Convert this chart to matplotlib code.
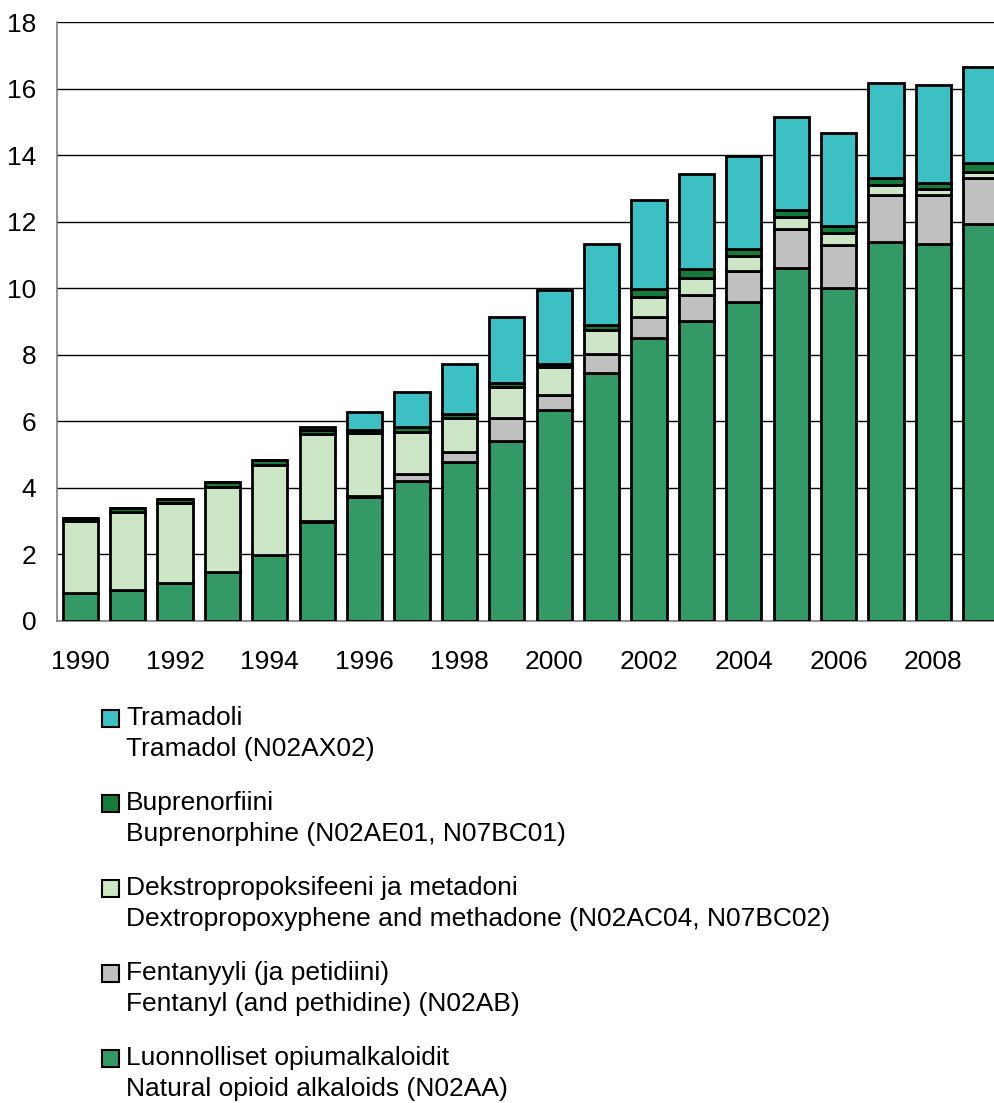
import matplotlib
matplotlib.use("Agg")
import matplotlib.pyplot as plt
from matplotlib.patches import Rectangle
import numpy as np

plt.rcParams['font.family'] = ['Liberation Sans', 'DejaVu Sans']

years = list(range(1990, 2010))

# stacked from bottom to top
natural = [0.84, 0.93, 1.13, 1.47, 1.98, 2.97, 3.72, 4.22, 4.79, 5.42,
           6.34, 7.46, 8.49, 9.03, 9.60, 10.61, 10.00, 11.38, 11.34, 11.94]
fentanyl = [0.0, 0.0, 0.0, 0.0, 0.0, 0.03, 0.05, 0.20, 0.28, 0.69,
            0.45, 0.56, 0.65, 0.77, 0.92, 1.18, 1.30, 1.42, 1.46, 1.38]
dextro = [2.17, 2.35, 2.43, 2.57, 2.71, 2.62, 1.87, 1.27, 1.04, 0.93,
          0.83, 0.72, 0.60, 0.50, 0.46, 0.36, 0.35, 0.29, 0.18, 0.17]
bupre = [0.10, 0.12, 0.12, 0.13, 0.14, 0.12, 0.10, 0.15, 0.11, 0.12,
         0.10, 0.15, 0.23, 0.29, 0.21, 0.19, 0.21, 0.21, 0.19, 0.27]
tramadol = [0.0, 0.0, 0.0, 0.0, 0.0, 0.1, 0.53, 1.05, 1.49, 1.97,
            2.23, 2.44, 2.68, 2.85, 2.77, 2.80, 2.82, 2.87, 2.95, 2.88]

series = [natural, fentanyl, dextro, bupre, tramadol]
colors = ['#339966', '#C0C0C0', '#CCE6C6', '#157A3C', '#3CC0C3']
labels_fi = ['Luonnolliset opiumalkaloidit', 'Fentanyyli (ja petidiini)',
             'Dekstropropoksifeeni ja metadoni', 'Buprenorfiini', 'Tramadoli']
labels_en = ['Natural opioid alkaloids (N02AA)', 'Fentanyl (and pethidine) (N02AB)',
             'Dextropropoxyphene and methadone (N02AC04, N07BC02)',
             'Buprenorphine (N02AE01, N07BC01)', 'Tramadol (N02AX02)']

fig = plt.figure(figsize=(9.95, 11.03), dpi=100)
ax = fig.add_axes([0.0573, 0.437, 1 - 0.0573, 0.543])

bottom = np.zeros(len(years))
for vals, c in zip(series, colors):
    ax.bar(years, vals, bottom=bottom, width=0.74, color=c,
           edgecolor='black', linewidth=2.0, zorder=3)
    bottom += np.array(vals)

ax.set_ylim(0, 18)
ax.set_xlim(1989.51, 2009.3)
ax.set_yticks(range(0, 19, 2))
ax.set_xticks(range(1990, 2010, 2))
ax.tick_params(axis='both', length=0, labelsize=19)
ax.tick_params(axis='y', pad=15)
ax.tick_params(axis='x', pad=21)
ax.yaxis.grid(True, color='black', linewidth=1.0, zorder=0)
ax.set_axisbelow(True)
for s in ['top', 'right']:
    ax.spines[s].set_visible(False)
ax.spines['left'].set_color('#808080')
ax.spines['bottom'].set_color('#808080')
ax.spines['left'].set_linewidth(1.2)
ax.spines['bottom'].set_linewidth(1.2)

# legend drawn by hand, top entry first
W, H = 995.0, 1103.0
for i, k in enumerate(range(4, -1, -1)):
    yc = 718 + 85 * i
    fig.add_artist(Rectangle((102 / W, 1 - (yc + 8.5) / H), 17 / W, 17 / H,
                             transform=fig.transFigure, facecolor=colors[k],
                             edgecolor='black', linewidth=1.5))
    fig.text(126 / W, 1 - yc / H, labels_fi[k], fontsize=19, va='center', ha='left')
    fig.text(126 / W, 1 - (yc + 31) / H, labels_en[k], fontsize=19, va='center', ha='left')

fig.savefig('out.png', dpi=100)
